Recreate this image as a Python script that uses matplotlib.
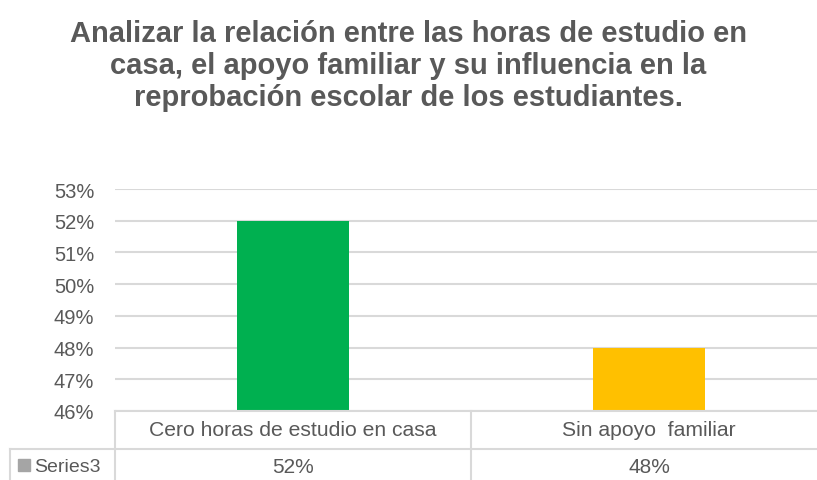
import matplotlib.pyplot as plt
from matplotlib.lines import Line2D
from matplotlib.patches import Rectangle

plt.rcParams["font.family"] = ["Liberation Sans", "DejaVu Sans"]

# ── data ─────────────────────────────────────────────────────────────────────
categories = ["Cero horas de estudio en casa", "Sin apoyo  familiar"]
values     = [0.52, 0.48]
labels     = ["52%", "48%"]
series     = "Series3"
bar_colors = ["#00B050", "#FFC000"]
yticks     = [0.46, 0.47, 0.48, 0.49, 0.50, 0.51, 0.52, 0.53]

TITLE = ("Analizar la relación entre las horas de estudio en\n"
         "casa, el apoyo familiar y su influencia en la\n"
         "reprobación escolar de los estudiantes.")

W, H = 817, 481
GRID = "#D9D9D9"
TXT  = "#595959"

fig = plt.figure(figsize=(W / 100, H / 100), dpi=100)

def fx(px): return px / W
def fy(py): return 1 - py / H

# plot area in pixel coords
left, right, top, bottom = 115, 827, 190, 412
ax = fig.add_axes([fx(left), fy(bottom), fx(right - left), (bottom - top) / H])

x = list(range(len(categories)))
ax.bar(x, values, width=0.315, color=bar_colors, zorder=3)
ax.set_xlim(-0.5, len(categories) - 0.5)
ax.set_ylim(yticks[0], yticks[-1])
ax.set_yticks(yticks)
ax.set_yticklabels([f"{v*100:.0f}%" for v in yticks], fontsize=14.5, color=TXT)
ax.set_xticks([])
ax.tick_params(axis="y", length=0, pad=15)
ax.grid(axis="y", color=GRID, lw=1.5, zorder=0)
for s in ax.spines.values():
    s.set_visible(False)

fig.text(0.5, fy(66), TITLE, ha="center", va="center", fontsize=21,
         fontweight="bold", color=TXT, linespacing=1.2)

# ── data table under the chart ───────────────────────────────────────────────
row1, row2 = 450, 481
lines = [
    ((left, W), (bottom, bottom)),
    ((10, W), (row1, row1)),
    ((left, left), (bottom, H)),
    ((10, 10), (row1, H)),
]
col_w = (right - left) / len(categories)
for i in range(1, len(categories)):
    xc = left + i * col_w
    lines.append(((xc, xc), (bottom, H)))
for xs, ys in lines:
    fig.add_artist(Line2D([fx(v) for v in xs], [fy(v) for v in ys],
                          color=GRID, lw=1.5))

for i, (cat, lab) in enumerate(zip(categories, labels)):
    cx = left + (i + 0.5) * col_w
    fig.text(fx(cx), fy((bottom + row1) / 2), cat, ha="center", va="center",
             fontsize=15.2, color=TXT)
    fig.text(fx(cx), fy((row1 + H) / 2 + 2), lab, ha="center", va="center",
             fontsize=15, color=TXT)

fig.add_artist(Rectangle((fx(18), fy(472)), fx(12), 12 / H,
                         color="#A5A5A5", transform=fig.transFigure))
fig.text(fx(34), fy((row1 + H) / 2 + 2), series, ha="left", va="center",
         fontsize=14, color=TXT)

fig.savefig("out.png", dpi=100)
